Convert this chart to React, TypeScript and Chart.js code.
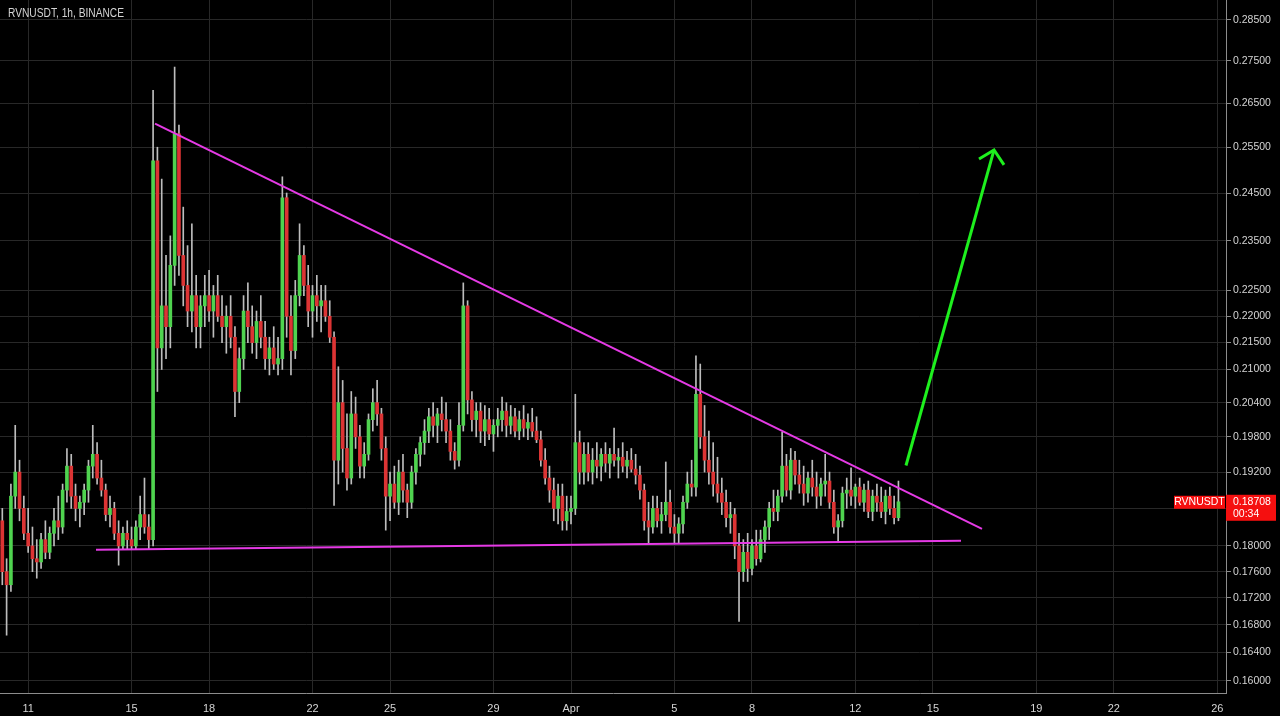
import React, { useEffect, useRef } from 'react';
import { Chart, registerables } from 'chart.js';

Chart.register(...registerables);

// Time axis unit: days counted from Mar 1 00:00. Candles are 4-hour bars from Mar 10 00:00.
const START_DAY = 9;
const CANDLE_DAYS = 4 / 24;

const OPEN = [
  0.184, 0.176, 0.174, 0.188, 0.192, 0.186,
  0.182, 0.180, 0.178, 0.1775, 0.181, 0.179,
  0.182, 0.184, 0.183, 0.189, 0.193, 0.188,
  0.186, 0.187, 0.189, 0.193, 0.195, 0.191,
  0.189, 0.185, 0.186, 0.182, 0.180, 0.182,
  0.181, 0.180, 0.183, 0.185, 0.183, 0.181,
  0.252, 0.214, 0.222, 0.218, 0.230, 0.258,
  0.232, 0.226, 0.221, 0.224, 0.218, 0.222,
  0.224, 0.221, 0.224, 0.220, 0.218, 0.220,
  0.216, 0.206, 0.212, 0.221, 0.218, 0.215,
  0.219, 0.216, 0.212, 0.214, 0.211, 0.212,
  0.244, 0.220, 0.2135, 0.224, 0.232, 0.226,
  0.221, 0.224, 0.222, 0.223, 0.220, 0.216,
  0.194, 0.204, 0.196, 0.191, 0.202, 0.198,
  0.193, 0.195, 0.201, 0.204, 0.202, 0.196,
  0.188, 0.190, 0.187, 0.192, 0.189, 0.187,
  0.192, 0.195, 0.197, 0.199, 0.2015, 0.200,
  0.202, 0.201, 0.199, 0.1955, 0.194, 0.200,
  0.222, 0.2045, 0.201, 0.2025, 0.199, 0.201,
  0.1985, 0.200, 0.201, 0.2025, 0.200, 0.2015,
  0.199, 0.201, 0.1995, 0.2005, 0.199, 0.1975,
  0.194, 0.191, 0.189, 0.186, 0.188, 0.184,
  0.1855, 0.186, 0.197, 0.192, 0.195, 0.192,
  0.194, 0.193, 0.195, 0.1935, 0.195, 0.194,
  0.1945, 0.193, 0.194, 0.1925, 0.1915, 0.189,
  0.184, 0.183, 0.186, 0.184, 0.185, 0.187,
  0.183, 0.182, 0.1835, 0.187, 0.190, 0.1895,
  0.2055, 0.198, 0.194, 0.192, 0.190, 0.1885,
  0.187, 0.1845, 0.185, 0.180, 0.176, 0.179,
  0.1765, 0.180, 0.178, 0.181, 0.183, 0.186,
  0.1855, 0.188, 0.193, 0.189, 0.194, 0.1915,
  0.190, 0.1885, 0.191, 0.1895, 0.188, 0.190,
  0.1905, 0.187, 0.183, 0.184, 0.1885, 0.189,
  0.188, 0.1895, 0.187, 0.189, 0.1855, 0.188,
  0.187, 0.1855, 0.188, 0.186, 0.1845,
];

const HIGH = [
  0.186, 0.178, 0.190, 0.200, 0.194, 0.188,
  0.186, 0.183, 0.181, 0.182, 0.184, 0.183,
  0.186, 0.188, 0.190, 0.196, 0.195, 0.190,
  0.188, 0.190, 0.194, 0.200, 0.197, 0.194,
  0.190, 0.188, 0.187, 0.184, 0.183, 0.184,
  0.183, 0.184, 0.188, 0.191, 0.185, 0.268,
  0.255, 0.248, 0.232, 0.236, 0.2735, 0.260,
  0.242, 0.234, 0.2385, 0.228, 0.224, 0.228,
  0.229, 0.226, 0.228, 0.224, 0.222, 0.224,
  0.218, 0.214, 0.224, 0.2265, 0.222, 0.221,
  0.224, 0.219, 0.216, 0.218, 0.216, 0.2485,
  0.245, 0.224, 0.227, 0.2385, 0.234, 0.230,
  0.226, 0.228, 0.226, 0.226, 0.223, 0.217,
  0.2105, 0.208, 0.202, 0.206, 0.205, 0.200,
  0.197, 0.202, 0.2065, 0.208, 0.203, 0.198,
  0.192, 0.193, 0.194, 0.195, 0.190, 0.193,
  0.196, 0.198, 0.201, 0.203, 0.204, 0.203,
  0.205, 0.204, 0.201, 0.197, 0.204, 0.2265,
  0.223, 0.206, 0.204, 0.204, 0.2035, 0.203,
  0.201, 0.203, 0.205, 0.204, 0.2035, 0.203,
  0.2025, 0.2035, 0.202, 0.203, 0.2015, 0.199,
  0.196, 0.193, 0.191, 0.190, 0.190, 0.188,
  0.188, 0.2055, 0.199, 0.197, 0.197, 0.196,
  0.197, 0.196, 0.197, 0.196, 0.1995, 0.196,
  0.197, 0.1955, 0.196, 0.195, 0.193, 0.190,
  0.187, 0.188, 0.188, 0.187, 0.1937, 0.189,
  0.185, 0.1845, 0.188, 0.192, 0.194, 0.2125,
  0.211, 0.2035, 0.199, 0.197, 0.1945, 0.191,
  0.189, 0.187, 0.186, 0.182, 0.181, 0.182,
  0.181, 0.1825, 0.1825, 0.184, 0.187, 0.189,
  0.189, 0.1988, 0.195, 0.196, 0.1955, 0.194,
  0.193, 0.192, 0.194, 0.192, 0.191, 0.195,
  0.192, 0.189, 0.185, 0.1895, 0.191, 0.1927,
  0.190, 0.191, 0.190, 0.1905, 0.189, 0.190,
  0.1895, 0.189, 0.1895, 0.188, 0.1905,
];

const LOW = [
  0.174, 0.1665, 0.173, 0.186, 0.184, 0.181,
  0.179, 0.176, 0.175, 0.1765, 0.178, 0.178,
  0.180, 0.181, 0.182, 0.187, 0.186, 0.184,
  0.183, 0.185, 0.187, 0.191, 0.190, 0.188,
  0.184, 0.183, 0.181, 0.177, 0.1795, 0.1795,
  0.1795, 0.1795, 0.181, 0.182, 0.1795, 0.180,
  0.206, 0.210, 0.212, 0.214, 0.226, 0.228,
  0.222, 0.218, 0.217, 0.214, 0.214, 0.218,
  0.219, 0.216, 0.219, 0.215, 0.213, 0.214,
  0.2015, 0.204, 0.210, 0.215, 0.213, 0.212,
  0.214, 0.210, 0.209, 0.210, 0.209, 0.210,
  0.216, 0.209, 0.212, 0.222, 0.224, 0.218,
  0.216, 0.219, 0.217, 0.219, 0.215, 0.1865,
  0.190, 0.192, 0.189, 0.190, 0.196, 0.191,
  0.191, 0.194, 0.199, 0.200, 0.194, 0.1825,
  0.184, 0.186, 0.185, 0.187, 0.1845, 0.186,
  0.190, 0.193, 0.195, 0.197, 0.198, 0.197,
  0.199, 0.197, 0.194, 0.1925, 0.193, 0.199,
  0.202, 0.199, 0.198, 0.197, 0.1965, 0.1975,
  0.1955, 0.198, 0.199, 0.198, 0.1985, 0.198,
  0.1975, 0.198, 0.1975, 0.198, 0.197, 0.193,
  0.190, 0.187, 0.184, 0.1835, 0.1825, 0.1825,
  0.1835, 0.185, 0.190, 0.190, 0.1905, 0.190,
  0.191, 0.1905, 0.192, 0.191, 0.193, 0.191,
  0.192, 0.191, 0.192, 0.190, 0.1875, 0.1825,
  0.1805, 0.182, 0.183, 0.182, 0.184, 0.182,
  0.1805, 0.1805, 0.182, 0.186, 0.188, 0.188,
  0.196, 0.192, 0.190, 0.188, 0.187, 0.185,
  0.183, 0.182, 0.178, 0.1685, 0.1745, 0.1745,
  0.1755, 0.177, 0.1775, 0.179, 0.181, 0.184,
  0.184, 0.187, 0.188, 0.1875, 0.190, 0.1885,
  0.1865, 0.187, 0.188, 0.186, 0.1865, 0.188,
  0.186, 0.182, 0.1805, 0.183, 0.186, 0.1865,
  0.186, 0.1865, 0.1855, 0.1845, 0.184, 0.1855,
  0.1845, 0.1835, 0.185, 0.1835, 0.184,
];

const CLOSE = [
  0.176, 0.174, 0.188, 0.192, 0.186, 0.182,
  0.180, 0.178, 0.1775, 0.181, 0.179, 0.182,
  0.184, 0.183, 0.189, 0.193, 0.188, 0.186,
  0.187, 0.189, 0.193, 0.195, 0.191, 0.189,
  0.185, 0.186, 0.182, 0.180, 0.182, 0.181,
  0.180, 0.183, 0.185, 0.183, 0.181, 0.252,
  0.214, 0.222, 0.218, 0.230, 0.258, 0.232,
  0.226, 0.221, 0.224, 0.218, 0.222, 0.224,
  0.221, 0.224, 0.220, 0.218, 0.220, 0.216,
  0.206, 0.212, 0.221, 0.218, 0.215, 0.219,
  0.216, 0.212, 0.214, 0.211, 0.212, 0.244,
  0.220, 0.2135, 0.224, 0.232, 0.226, 0.221,
  0.224, 0.222, 0.223, 0.220, 0.216, 0.194,
  0.204, 0.196, 0.191, 0.202, 0.198, 0.193,
  0.195, 0.201, 0.204, 0.202, 0.196, 0.188,
  0.190, 0.187, 0.192, 0.189, 0.187, 0.192,
  0.195, 0.197, 0.199, 0.2015, 0.200, 0.202,
  0.201, 0.199, 0.1955, 0.194, 0.200, 0.222,
  0.2045, 0.201, 0.2025, 0.199, 0.201, 0.1985,
  0.200, 0.201, 0.2025, 0.200, 0.2015, 0.199,
  0.201, 0.1995, 0.2005, 0.199, 0.1975, 0.194,
  0.191, 0.189, 0.186, 0.188, 0.184, 0.1855,
  0.186, 0.197, 0.192, 0.195, 0.192, 0.194,
  0.193, 0.195, 0.1935, 0.195, 0.194, 0.1945,
  0.193, 0.194, 0.1925, 0.1915, 0.189, 0.184,
  0.183, 0.186, 0.184, 0.185, 0.187, 0.183,
  0.182, 0.1835, 0.187, 0.190, 0.1895, 0.2055,
  0.198, 0.194, 0.192, 0.190, 0.1885, 0.187,
  0.1845, 0.185, 0.180, 0.176, 0.179, 0.1765,
  0.180, 0.178, 0.181, 0.183, 0.186, 0.1855,
  0.188, 0.193, 0.189, 0.194, 0.1915, 0.190,
  0.1885, 0.191, 0.1895, 0.188, 0.190, 0.1905,
  0.187, 0.183, 0.184, 0.1885, 0.189, 0.188,
  0.1895, 0.187, 0.189, 0.1855, 0.188, 0.187,
  0.1855, 0.188, 0.186, 0.1845, 0.18708,
];

const X_TICK_DAYS = [10, 14, 17, 21, 24, 28, 31, 35, 38, 42, 45, 49, 52, 56];
const X_TICK_LABELS = ['11', '15', '18', '22', '25', '29', 'Apr', '5', '8', '12', '15', '19', '22', '26'];
const Y_TICKS = [
  0.16, 0.164, 0.168, 0.172, 0.176, 0.18, 0.186, 0.192, 0.198, 0.204,
  0.21, 0.215, 0.22, 0.225, 0.235, 0.245, 0.255, 0.265, 0.275, 0.285,
];
const X_MIN = 8.911;
const X_MAX = 56.338;
const Y_MIN = 0.1583;
const Y_MAX = 0.29;

const TITLE = 'RVNUSDT, 1h, BINANCE';
const SYMBOL = 'RVNUSDT';
const LAST_PRICE = 0.18708;
const COUNTDOWN = '00:34';

// Drawn trend lines (time in days from Mar 1, price)
const RESISTANCE_X = [14.907, 46.899];
const RESISTANCE_Y = [0.2603, 0.1827];
const SUPPORT_X = [12.625, 46.087];
const SUPPORT_Y = [0.1794, 0.1808];
const ARROW_X = [43.959, 47.364];
const ARROW_Y = [0.1931, 0.2544];
const ARROW_HEAD_X = [46.783, 47.364, 47.75];
const ARROW_HEAD_Y = [0.2524, 0.2544, 0.2511];

const BG = '#000000';
const GRID = '#282828';
const AXIS = '#8c8c8c';
const TEXT = '#d4d4d4';
const UP = '#4fd34f';
const DOWN = '#dc3434';
const WICK = '#bdbdbd';
const MAGENTA = '#e53ae5';
const ARROW_GREEN = '#1ef01e';
const TAG_RED = '#f50f0f';
const FONT = "'Liberation Sans', Arial, sans-serif";

const pts = (xs: number[], ys: number[]) => xs.map((x, i) => ({ x, y: ys[i] }));

const overlayPlugin = {
  id: 'overlay',
  beforeDraw(chart: any) {
    const ctx = chart.ctx;
    ctx.save();
    ctx.fillStyle = BG;
    ctx.fillRect(0, 0, chart.width, chart.height);
    ctx.restore();
  },
  afterDraw(chart: any) {
    const ctx = chart.ctx;
    const right = chart.chartArea.right;
    const y = chart.scales.y.getPixelForValue(LAST_PRICE);
    ctx.save();
    ctx.textBaseline = 'middle';
    ctx.textAlign = 'left';
    ctx.fillStyle = TEXT;
    ctx.font = `12px ${FONT}`;
    ctx.save();
    ctx.translate(8, 14);
    ctx.scale(0.85, 1);
    ctx.fillText(TITLE, 0, 0);
    ctx.restore();

    ctx.fillStyle = TAG_RED;
    ctx.fillRect(right, y - 7, 50, 26);
    ctx.fillRect(right - 52, y - 6, 51, 13);
    ctx.fillStyle = '#ffffff';
    ctx.font = `10.5px ${FONT}`;
    ctx.fillText(LAST_PRICE.toFixed(5), right + 7, y + 0.5);
    ctx.fillText(COUNTDOWN, right + 7, y + 12.5);
    ctx.textAlign = 'center';
    ctx.fillText(SYMBOL, right - 26.5, y + 0.5);
    ctx.restore();
  },
};

export default function App() {
  const canvasRef = useRef<HTMLCanvasElement | null>(null);

  useEffect(() => {
    const canvas = canvasRef.current;
    if (!canvas) return;
    const times = OPEN.map((_, i) => START_DAY + i * CANDLE_DAYS);
    const bodyColors = OPEN.map((o, i) => (CLOSE[i] >= o ? UP : DOWN));

    const lineDs = (xs: number[], ys: number[], color: string, width: number) => ({
      type: 'line',
      data: pts(xs, ys),
      borderColor: color,
      borderWidth: width,
      pointRadius: 0,
      fill: false,
      tension: 0,
      order: 0,
    });

    const chart = new Chart(canvas, {
      type: 'bar',
      data: {
        datasets: [
          lineDs(RESISTANCE_X, RESISTANCE_Y, MAGENTA, 2) as any,
          lineDs(SUPPORT_X, SUPPORT_Y, MAGENTA, 2) as any,
          lineDs(ARROW_X, ARROW_Y, ARROW_GREEN, 3) as any,
          lineDs(ARROW_HEAD_X, ARROW_HEAD_Y, ARROW_GREEN, 3) as any,
          {
            type: 'bar',
            data: times.map((t, i) => ({ x: t, y: [OPEN[i], CLOSE[i]] })),
            backgroundColor: bodyColors,
            borderWidth: 0,
            barThickness: 3,
            minBarLength: 1,
            grouped: false,
            order: 1,
          } as any,
          {
            type: 'bar',
            data: times.map((t, i) => ({ x: t, y: [LOW[i], HIGH[i]] })),
            backgroundColor: WICK,
            borderWidth: 0,
            barThickness: 1,
            grouped: false,
            order: 2,
          } as any,
        ],
      },
      options: {
        animation: false,
        responsive: false,
        maintainAspectRatio: false,
        layout: { padding: 0 },
        plugins: {
          legend: { display: false },
          tooltip: { enabled: false },
          title: { display: false },
        },
        scales: {
          x: {
            type: 'linear',
            min: X_MIN,
            max: X_MAX,
            offset: false,
            grid: { color: GRID, drawTicks: false, offset: false },
            border: { display: true, color: AXIS, width: 1 },
            ticks: {
              color: TEXT,
              font: { family: FONT, size: 11 },
              padding: 9,
              autoSkip: false,
              maxRotation: 0,
              callback: (v: any) => {
                const idx = X_TICK_DAYS.indexOf(Number(v));
                return idx >= 0 ? X_TICK_LABELS[idx] : '';
              },
            },
            afterBuildTicks: (axis: any) => {
              axis.ticks = X_TICK_DAYS.map((value) => ({ value }));
            },
            afterFit: (axis: any) => {
              axis.height = 23;
              axis.paddingLeft = 0;
              axis.paddingRight = 0;
            },
          },
          y: {
            type: 'logarithmic',
            position: 'right',
            min: Y_MIN,
            max: Y_MAX,
            grid: { color: GRID, tickColor: AXIS, tickLength: 5, drawTicks: true },
            border: { display: true, color: AXIS, width: 1 },
            ticks: {
              color: TEXT,
              font: { family: FONT, size: 10.5 },
              padding: 2,
              autoSkip: false,
              callback: (v: any) => Number(v).toFixed(5),
            },
            afterBuildTicks: (axis: any) => {
              axis.ticks = Y_TICKS.map((value) => ({ value }));
            },
            afterFit: (axis: any) => {
              axis.width = 54;
              axis.paddingTop = 0;
              axis.paddingBottom = 0;
            },
          },
        },
      } as any,
      plugins: [overlayPlugin],
    });

    return () => chart.destroy();
  }, []);

  return (
    <div style={{ position: 'fixed', left: 0, top: 0, width: 1280, height: 716, background: BG }}>
      <canvas ref={canvasRef} width={1280} height={716} style={{ display: 'block', width: 1280, height: 716 }} />
    </div>
  );
}
